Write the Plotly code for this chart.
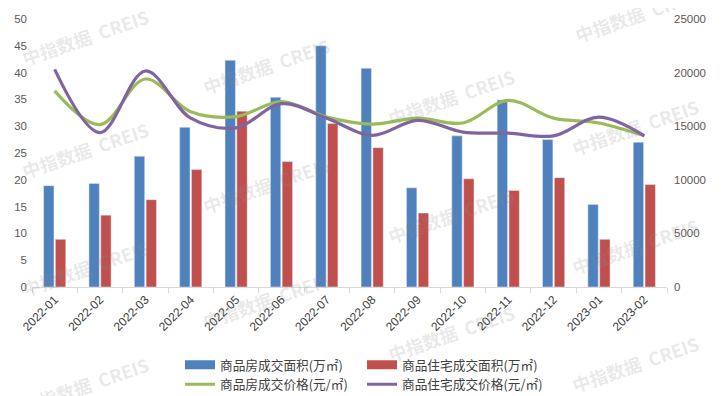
import plotly.graph_objects as go

months = ["2022-01", "2022-02", "2022-03", "2022-04", "2022-05", "2022-06", "2022-07",
          "2022-08", "2022-09", "2022-10", "2022-11", "2022-12", "2023-01", "2023-02"]
area_all = [18.9, 19.3, 24.4, 29.8, 42.3, 35.4, 45.0, 40.8, 18.5, 28.2, 34.9, 27.5, 15.4, 27.0]
area_res = [8.9, 13.4, 16.3, 21.9, 32.8, 23.4, 30.5, 26.0, 13.8, 20.2, 18.0, 20.4, 8.9, 19.1]
price_all = [18300, 15150, 19400, 16350, 15900, 17300, 15850, 15200, 15750, 15300, 17400, 15750, 15300, 14100]
price_res = [20300, 14400, 20150, 15750, 14850, 17100, 15750, 14150, 15550, 14450, 14350, 14100, 15850, 14100]

names = ["商品房成交面积(万㎡)", "商品住宅成交面积(万㎡)", "商品房成交价格(元/㎡)", "商品住宅成交价格(元/㎡)"]
colors = ["#4F81BD", "#C0504D", "#9BBB59", "#8064A2"]

fig = go.Figure()
fig.add_trace(go.Bar(x=months, y=area_all, marker_color=colors[0], name=names[0], showlegend=False))
fig.add_trace(go.Bar(x=months, y=area_res, marker_color=colors[1], name=names[1], showlegend=False))
fig.add_trace(go.Scatter(x=months, y=price_all, mode="lines", yaxis="y2", showlegend=False,
                         line=dict(color=colors[2], width=3.2, shape="spline", smoothing=1.0), name=names[2]))
fig.add_trace(go.Scatter(x=months, y=price_res, mode="lines", yaxis="y2", showlegend=False,
                         line=dict(color=colors[3], width=3.2, shape="spline", smoothing=1.0), name=names[3]))

# legend entries
legend_spec = [(names[0], colors[0], 9, "legend"), (names[2], colors[2], 3, "legend"),
               (names[1], colors[1], 9, "legend2"), (names[3], colors[3], 3, "legend2")]
for nm, c, w, lg in legend_spec:
    fig.add_trace(go.Scatter(x=[months[0]], y=[None], mode="lines", name=nm, legend=lg,
                             line=dict(color=c, width=w), yaxis="y2"))

# page offset (body margin) of 8px: screen = figure + 8
OFF = 8
W, H = 723, 396
PL, PR, PT, PB = 32, 667, 19, 287  # plot area in screen pixels

# watermarks (centres, screen pixels)
wm = [(85, 37), (85, 150), (85, 268), (85, 385),
      (266, 66), (266, 185), (266, 300),
      (451, 97), (451, 215), (451, 333),
      (638, 14), (635, 127), (635, 246), (635, 364)]
for (px, py) in wm:
    fig.add_annotation(text="<b>中指数据  CREIS</b>", xref="paper", yref="paper",
                       x=(px - PL) / (PR - PL), y=(PB - py) / (PB - PT), showarrow=False,
                       xanchor="center", yanchor="middle", textangle=-19,
                       font=dict(family="Noto Sans CJK SC", size=18, color="rgba(140,140,140,0.2)"))

fig.update_layout(
    width=W, height=H,
    margin=dict(l=PL - OFF, r=W - (PR - OFF), t=PT - OFF, b=H - (PB - OFF), autoexpand=False),
    paper_bgcolor="white", plot_bgcolor="white",
    barmode="group", bargap=0.48, bargroupgap=0.12,
    font=dict(family="Liberation Sans", color="#595959"),
    xaxis=dict(type="category", showgrid=False, showline=True, linecolor="#d9d9d9", linewidth=1,
               ticks="outside", tickson="boundaries", ticklen=5, tickcolor="#d9d9d9",
               tickangle=-45, tickfont=dict(size=12, color="#404040"), automargin=False),
    yaxis=dict(range=[0, 50], dtick=5, showgrid=False, zeroline=False, automargin=False,
               tickfont=dict(size=11.5, color="#595959"), ticklabelstandoff=4),
    yaxis2=dict(range=[0, 25000], dtick=5000, overlaying="y", side="right", showgrid=False,
                zeroline=False, tickformat="d", tickfont=dict(size=11.5, color="#595959"),
                ticklabelstandoff=6, automargin=False),
    legend=dict(xref="container", yref="container", x=(180 - OFF) / W, y=1 - (350 - OFF) / H,
                xanchor="left", yanchor="top", orientation="v", tracegroupgap=0,
                font=dict(family="Noto Sans CJK SC", size=12.7, color="#404040"), itemwidth=30),
    legend2=dict(xref="container", yref="container", x=(362 - OFF) / W, y=1 - (350 - OFF) / H,
                 xanchor="left", yanchor="top", orientation="v", tracegroupgap=0,
                 font=dict(family="Noto Sans CJK SC", size=12.7, color="#404040"), itemwidth=30),
)

fig.write_html("out.html")
